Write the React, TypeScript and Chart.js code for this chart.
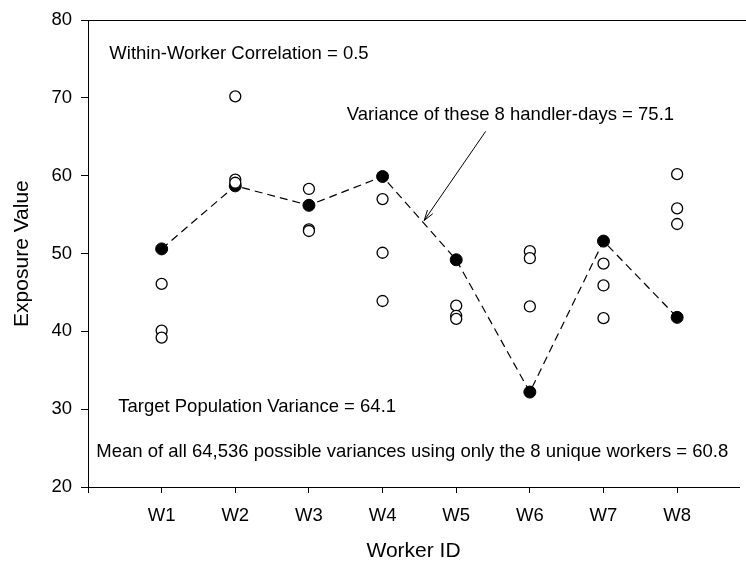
import React, { useEffect, useRef } from 'react';
import { Chart, registerables } from 'chart.js';

Chart.register(...registerables);

// ---- data ----
const workers = ['W1', 'W2', 'W3', 'W4', 'W5', 'W6', 'W7', 'W8'];
const selectedDay = [50.6, 58.7, 56.2, 59.9, 49.2, 32.2, 51.6, 41.8];
const otherDayA = [46.1, 70.2, 58.3, 57.0, 43.3, 50.3, 48.7, 60.2];
const otherDayB = [40.1, 59.5, 53.1, 50.1, 42.0, 49.4, 45.9, 55.8];
const otherDayC = [39.2, 59.1, 52.9, 43.9, 41.6, 43.2, 41.7, 53.8];
const yMin = 20;
const yMax = 80;
const yStep = 10;

const xTitle = 'Worker ID';
const yTitle = 'Exposure Value';

const notes = [
  { text: 'Within-Worker Correlation = 0.5', x: 0.29, y: 75.0 },
  { text: 'Variance of these 8 handler-days = 75.1', x: 3.515, y: 67.1 },
  { text: 'Target Population Variance = 64.1', x: 0.41, y: 29.6 },
  { text: 'Mean of all 64,536 possible variances using only the 8 unique workers = 60.8', x: 0.113, y: 23.8 },
];
const arrow = { from: { x: 5.4, y: 65.7 }, to: { x: 4.565, y: 54.25 } };

const FONT = '"Liberation Sans", Arial, Helvetica, sans-serif';

const overlay = {
  id: 'overlay',
  afterDraw(chart: any) {
    const { ctx, chartArea, scales } = chart;
    const xs = scales.x;
    const ys = scales.y;
    ctx.save();
    ctx.strokeStyle = '#000';
    ctx.fillStyle = '#000';
    ctx.lineWidth = 1;
    // top frame line
    ctx.beginPath();
    ctx.moveTo(chartArea.left, Math.round(chartArea.top) + 0.5);
    ctx.lineTo(chart.width, Math.round(chartArea.top) + 0.5);
    ctx.stroke();

    // annotations
    ctx.font = `18.5px ${FONT}`;
    ctx.textAlign = 'left';
    ctx.textBaseline = 'alphabetic';
    for (const n of notes) {
      ctx.fillText(n.text, xs.getPixelForValue(n.x), ys.getPixelForValue(n.y));
    }

    // arrow
    const x1 = xs.getPixelForValue(arrow.from.x);
    const y1 = ys.getPixelForValue(arrow.from.y);
    const x2 = xs.getPixelForValue(arrow.to.x);
    const y2 = ys.getPixelForValue(arrow.to.y);
    ctx.beginPath();
    ctx.moveTo(x1, y1);
    ctx.lineTo(x2, y2);
    const ang = Math.atan2(y2 - y1, x2 - x1);
    const hl = 11;
    const spread = 0.3;
    ctx.moveTo(x2 - hl * Math.cos(ang - spread), y2 - hl * Math.sin(ang - spread));
    ctx.lineTo(x2, y2);
    ctx.lineTo(x2 - hl * Math.cos(ang + spread), y2 - hl * Math.sin(ang + spread));
    ctx.stroke();

    // axis titles
    ctx.font = `21px ${FONT}`;
    ctx.textAlign = 'center';
    ctx.textBaseline = 'middle';
    ctx.fillText(xTitle, (chartArea.left + chartArea.right) / 2, 551);
    ctx.translate(22, (chartArea.top + chartArea.bottom) / 2);
    ctx.rotate(-Math.PI / 2);
    ctx.fillText(yTitle, 0, 0);
    ctx.restore();
  },
};

export default function App() {
  const ref = useRef<HTMLCanvasElement>(null);

  useEffect(() => {
    if (!ref.current) return;
    const openPts: { x: number; y: number }[] = [];
    [otherDayA, otherDayB, otherDayC].forEach((arr) =>
      arr.forEach((v, i) => openPts.push({ x: i + 1, y: v }))
    );
    const filledPts = selectedDay.map((v, i) => ({ x: i + 1, y: v }));

    const chart = new Chart(ref.current, {
      type: 'scatter',
      data: {
        datasets: [
          {
            label: 'other days',
            data: openPts,
            pointStyle: 'circle',
            pointRadius: 5.5,
            pointBorderWidth: 1.3,
            pointBackgroundColor: '#fff',
            pointBorderColor: '#000',
            showLine: false,
          },
          {
            label: 'selected day',
            data: filledPts,
            showLine: true,
            borderColor: '#000',
            borderWidth: 1.2,
            borderDash: [8, 5],
            pointStyle: 'circle',
            pointRadius: 6,
            pointBorderWidth: 1,
            pointBackgroundColor: '#000',
            pointBorderColor: '#000',
            tension: 0,
          },
        ],
      },
      options: {
        animation: false,
        responsive: false,
        events: [],
        layout: { padding: { top: 16, right: 0, left: 0, bottom: 0 } },
        plugins: { legend: { display: false }, tooltip: { enabled: false } },
        scales: {
          x: {
            type: 'linear',
            min: 0,
            max: 8.84,
            afterBuildTicks: (s: any) => {
              s.ticks = [0, ...workers.map((_, i) => i + 1)].map((v) => ({ value: v }));
            },
            afterFit: (s: any) => {
              s.height = 80;
            },
            ticks: {
              autoSkip: false,
              maxRotation: 0,
              color: '#000',
              padding: 12,
              font: { family: FONT, size: 18.5 },
              callback: (v: any) => workers[Number(v) - 1] ?? '',
            },
            grid: { drawOnChartArea: false, tickLength: 6, color: '#000', lineWidth: 1 },
            border: { display: true, color: '#000', width: 1 },
          },
          y: {
            type: 'linear',
            min: yMin,
            max: yMax,
            afterFit: (s: any) => {
              s.width = 88;
            },
            ticks: {
              stepSize: yStep,
              color: '#000',
              padding: 9,
              font: { family: FONT, size: 18.5 },
            },
            grid: { drawOnChartArea: false, tickLength: 7, color: '#000', lineWidth: 1 },
            border: { display: true, color: '#000', width: 1 },
          },
        },
      },
      plugins: [overlay],
    });
    return () => chart.destroy();
  }, []);

  return (
    <div style={{ position: 'fixed', left: 0, top: 0, width: 746, height: 567, background: '#fff' }}>
      <canvas ref={ref} width={746} height={567} style={{ display: 'block' }} />
    </div>
  );
}
